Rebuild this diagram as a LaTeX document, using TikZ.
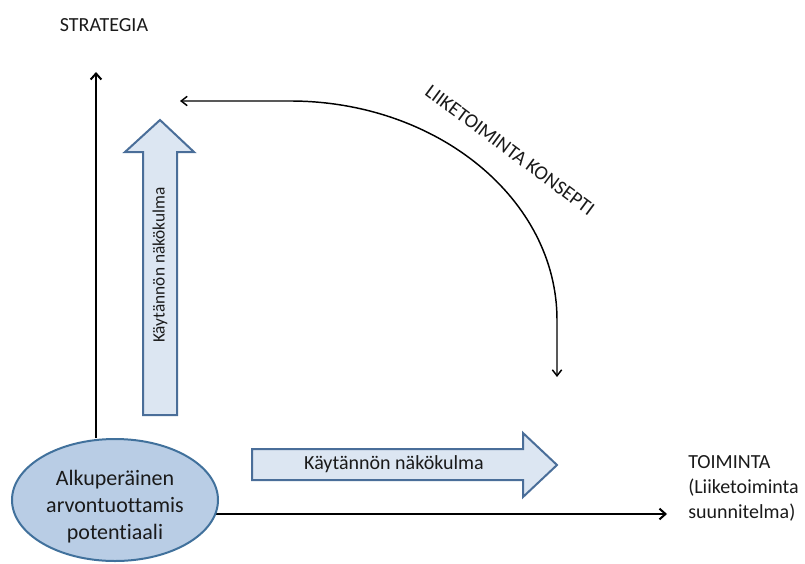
\documentclass[tikz,border=0pt]{standalone}
\usepackage{fontspec}
\setmainfont{Carlito}[RawFeature={-liga;-clig;-dlig}]
\usetikzlibrary{arrows.meta,shapes.geometric}
\definecolor{ellfill}{HTML}{B9CDE5}
\definecolor{ellline}{HTML}{41719C}
\definecolor{blkfill}{HTML}{DCE6F2}
\definecolor{blkline}{HTML}{4A6E99}
\definecolor{txt}{HTML}{1A1A1A}
\tikzset{
  axisline/.style={line width=1.5pt,-{Straight Barb[length=4.5pt,width=8pt]}},
  curveline/.style={line width=1.1pt,{Straight Barb[length=4.5pt,width=7pt]}-{Straight Barb[length=4.5pt,width=7pt]}},
  blockarrow/.style={draw=blkline,fill=blkfill,line width=1.5pt,line join=miter},
  lbl/.style={text=txt,inner sep=0pt,font=\fontsize{15pt}{18.75pt}\selectfont},
  potbox/.style={ellipse,draw=ellline,fill=ellfill,line width=1.5pt,minimum width=154.5pt,minimum height=91.5pt,inner sep=0pt},
}
\begin{document}
\begin{tikzpicture}[x=0.75pt,y=-0.75pt]
\useasboundingbox (0,0) rectangle (805,563);
% coordinates
\coordinate (ytip) at (96,72);
\coordinate (xtip) at (667,514);
\coordinate (cleft) at (180,101);
\coordinate (cdown) at (557,377);
% ellipse position helper
\path (115,500) node[potbox,draw=none,fill=none] (potref) {};
% axes (drawn under the ellipse)
\draw[axisline] (potref.north -| ytip) -- (ytip);
\draw[axisline] ([xshift=-6pt]potref.east |- xtip) -- (xtip);
% ellipse
\node[potbox] (pot) at (115,500) {};
\node[lbl,align=center,font=\fontsize{16.5pt}{20.25pt}\selectfont] (potlbl) at (115,507)
  {Alkuperäinen\\arvontuottamis\\potentiaali};
% labels
\node[lbl] (strat) at (104,25) {STRATEGIA};
\node[lbl,align=left,anchor=west] (toim) at (688,488)
  {TOIMINTA\\(Liiketoiminta\\suunnitelma)};
% vertical block arrow
\draw[blockarrow] (143,415) -- (143,152) -- (125,152) -- (160,120) -- (194,152) -- (177,152) -- (177,415) -- cycle;
\node[lbl,rotate=90,font=\fontsize{13pt}{15pt}\selectfont] (vtext) at (160,265) {Käytännön näkökulma};
% horizontal block arrow
\draw[blockarrow] (252,449) -- (523,449) -- (523,433) -- (557,465) -- (523,497) -- (523,480) -- (252,480) -- cycle;
\node[lbl] (htext) at (394,464) {Käytännön näkökulma};
% curved arrow
\draw[curveline] (cdown) -- (557,320) .. controls (557,199) and (437,101) .. (290,101) -- (cleft);
\node[lbl,rotate=-36.6] (konsepti) at (510,150) {LIIKETOIMINTA KONSEPTI};
\end{tikzpicture}
\end{document}
